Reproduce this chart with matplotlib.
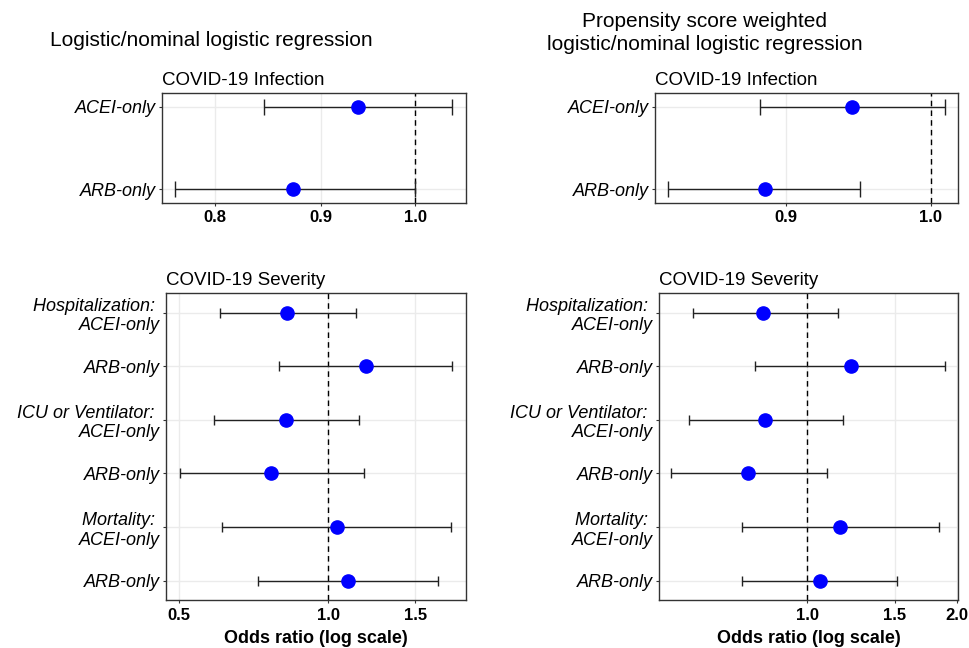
import numpy as np
import matplotlib
matplotlib.use("Agg")
import matplotlib.pyplot as plt
from matplotlib.ticker import FixedLocator, NullLocator, FormatStrFormatter

plt.rcParams['font.family'] = ['Liberation Sans', 'DejaVu Sans']

# odds ratios
inf_labels = ["ACEI-only", "ARB-only"]
inf_or = [0.938, 0.873]
inf_lo = [0.845, 0.765]
inf_hi = [1.042, 1.000]

inf_or_w = [0.944, 0.886]
inf_lo_w = [0.883, 0.826]
inf_hi_w = [1.0105, 0.950]

sev_labels = ["Hospitalization: \nACEI-only", "ARB-only",
              "ICU or Ventilator: \nACEI-only", "ARB-only",
              "Mortality: \nACEI-only", "ARB-only"]
sev_or = [0.827, 1.19, 0.822, 0.768, 1.041, 1.096]
sev_lo = [0.603, 0.795, 0.588, 0.501, 0.609, 0.720]
sev_hi = [1.137, 1.78, 1.154, 1.184, 1.77, 1.667]

sev_or_w = [0.816, 1.224, 0.821, 0.761, 1.161, 1.059]
sev_lo_w = [0.588, 0.786, 0.578, 0.531, 0.740, 0.740]
sev_hi_w = [1.152, 1.89, 1.177, 1.095, 1.836, 1.517]

W, H = 969, 648
fig = plt.figure(figsize=(W / 100, H / 100), dpi=100)


def px_axes(x0, y0, x1, y1):
    return fig.add_axes([x0 / W, 1 - y1 / H, (x1 - x0) / W, (y1 - y0) / H])


def forest(ax, labels, est, lo, hi, xlim, xticks, title, capsize, yexp, xlabel=None):
    y = np.arange(len(labels))
    est = np.array(est)
    err = [est - np.array(lo), np.array(hi) - est]
    ax.set_xscale("log")
    ax.set_axisbelow(True)
    ax.grid(True, color="#ebebeb", linewidth=1.0)
    ax.axvline(1.0, color="black", linestyle=(0, (4, 3)), linewidth=1.0, zorder=1)
    ax.errorbar(est, y, xerr=err, fmt="none", ecolor="#222222", elinewidth=1.0,
                capsize=capsize, capthick=1.0, zorder=2)
    ax.plot(est, y, "o", color="#0000ff", markersize=9.5, zorder=3)
    ax.set_xlim(*xlim)
    ax.set_ylim(len(labels) - 1 + yexp, -yexp)
    ax.set_yticks(y)
    ax.set_yticklabels(labels, fontstyle="italic", fontsize=13)
    ax.xaxis.set_major_locator(FixedLocator(xticks))
    ax.xaxis.set_minor_locator(NullLocator())
    ax.xaxis.set_major_formatter(FormatStrFormatter("%.1f"))
    for t in ax.get_xticklabels():
        t.set_fontweight("bold")
        t.set_fontsize(12)
    ax.tick_params(length=2.5, width=0.8, color="#333333", pad=2)
    ax.tick_params(axis="x", pad=3)
    for s in ax.spines.values():
        s.set_color("#333333")
        s.set_linewidth(1.0)
    ax.set_title(title, loc="left", fontsize=13.5, pad=6)
    if xlabel:
        ax.set_xlabel(xlabel, fontweight="bold", fontsize=13, labelpad=5)


ax1 = px_axes(161.7, 93.3, 465.7, 202.7)
forest(ax1, inf_labels, inf_or, inf_lo, inf_hi, (0.754, 1.058), [0.8, 0.9, 1.0],
       "COVID-19 Infection", 5.9, 0.16)

ax2 = px_axes(655, 93.3, 958.3, 202.7)
forest(ax2, inf_labels, inf_or_w, inf_lo_w, inf_hi_w, (0.818, 1.0203), [0.9, 1.0],
       "COVID-19 Infection", 5.9, 0.16)

ax3 = px_axes(166, 293.3, 466, 600)
forest(ax3, sev_labels, sev_or, sev_lo, sev_hi, (0.47, 1.90), [0.5, 1.0, 1.5],
       "COVID-19 Severity", 3.85, 0.36, "Odds ratio (log scale)")

ax4 = px_axes(659, 293.3, 958.3, 600)
forest(ax4, sev_labels, sev_or_w, sev_lo_w, sev_hi_w, (0.503, 2.012), [1.0, 1.5, 2.0],
       "COVID-19 Severity", 3.85, 0.36, "Odds ratio (log scale)")

fig.text(211 / W, 1 - 40 / H, "Logistic/nominal logistic regression",
         ha="center", va="center", fontsize=15)
fig.text(705 / W, 1 - 33 / H, "Propensity score weighted\nlogistic/nominal logistic regression",
         ha="center", va="center", fontsize=15, linespacing=1.3)

fig.savefig("out.png", dpi=100, facecolor="white")
